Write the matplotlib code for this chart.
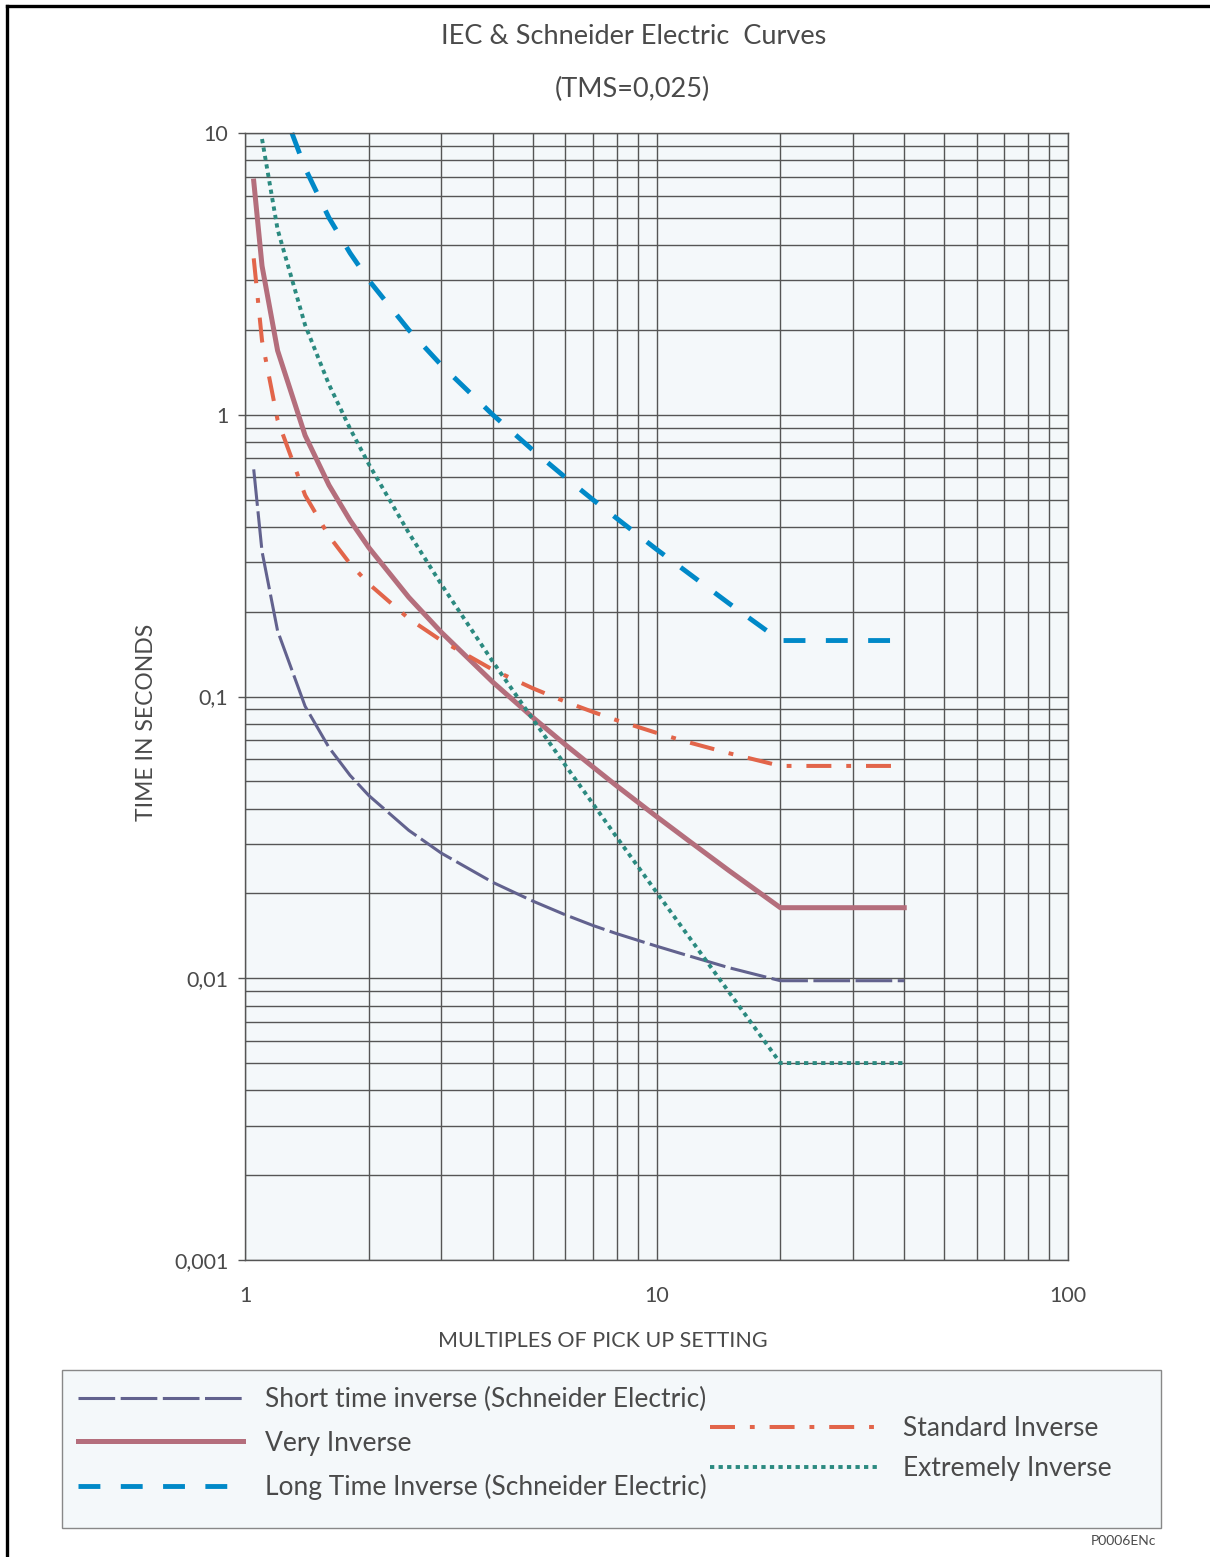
"""
IEC & Schneider Electric IDMT curves at TMS=0,025, log-log chart.
"""

import matplotlib.pyplot as plt
from matplotlib.patches import Rectangle
from matplotlib.lines import Line2D

# multiples of pick up setting
m_main = [1.05, 1.1, 1.2, 1.4, 1.6, 1.8, 2, 2.5, 3, 4, 5, 6, 7, 8, 10, 12, 15, 20, 40]
m_ei = [1.1, 1.2, 1.4, 1.6, 1.8, 2, 2.5, 3, 4, 5, 6, 7, 8, 10, 12, 15, 20, 40]
m_lti = [1.3, 1.4, 1.6, 1.8, 2, 2.5, 3, 4, 5, 6, 7, 8, 10, 12, 15, 20, 40]

# trip times in seconds
t_sti = [0.640, 0.327, 0.171, 0.0923, 0.0659, 0.0525, 0.0445, 0.0335, 0.0278,
         0.0219, 0.0188, 0.0168, 0.0154, 0.0144, 0.0130, 0.0120, 0.0109,
         0.0098, 0.0098]
t_vi = [6.75, 3.375, 1.69, 0.844, 0.5625, 0.422, 0.3375, 0.225, 0.169, 0.1125,
        0.0844, 0.0675, 0.0563, 0.0482, 0.0375, 0.0307, 0.0241, 0.0178, 0.0178]
t_lti = [10.0, 7.5, 5.0, 3.75, 3.0, 2.0, 1.5, 1.0, 0.75, 0.6, 0.5, 0.429, 0.333,
         0.273, 0.214, 0.158, 0.158]
t_si = [3.59, 1.83, 0.958, 0.518, 0.371, 0.296, 0.251, 0.189, 0.158, 0.1245,
        0.107, 0.0959, 0.0882, 0.0824, 0.0743, 0.0687, 0.0629, 0.0567, 0.0567]
t_ei = [9.52, 4.55, 2.08, 1.28, 0.893, 0.667, 0.381, 0.25, 0.133, 0.0833,
        0.0571, 0.0417, 0.0317, 0.0202, 0.0140, 0.00893, 0.0050, 0.0050]

y_ticks = [0.001, 0.01, 0.1, 1, 10]
y_ticklabels = ["0,001", "0,01", "0,1", "1", "10"]
x_ticks = [1, 10, 100]
x_ticklabels = ["1", "10", "100"]

txt_clr = "#4a4a4a"
grid_clr = "#555555"
bg_clr = "#f4f8fa"


def main():
    plt.rcParams['font.family'] = ['Lato', 'DejaVu Sans']

    fig = plt.figure(figsize=(12.1, 15.57), dpi=100)
    ax = fig.add_axes([245 / 1210, 1 - 1260 / 1557, 823 / 1210, 1127 / 1557])
    ax.set_facecolor(bg_clr)
    ax.set_xscale("log")
    ax.set_yscale("log")
    ax.set_xlim(1, 100)
    ax.set_ylim(0.001, 10)

    # the curves
    l_sti, = ax.plot(m_main, t_sti, color="#62628e", lw=2.2, dashes=(12, 1.8),
                     label="Short time inverse (Schneider Electric)")
    l_vi, = ax.plot(m_main, t_vi, color="#b46e7c", lw=3.6, label="Very Inverse")
    l_lti, = ax.plot(m_lti, t_lti, color="#0089c8", lw=3.5, dashes=(4.5, 4.2),
                     label="Long Time Inverse (Schneider Electric)", clip_on=False)
    l_si, = ax.plot(m_main, t_si, color="#e2654a", lw=2.9,
                    dashes=(6.2, 3.7, 1.2, 3.7), label="Standard Inverse")
    l_ei, = ax.plot(m_ei, t_ei, color="#2b8a80", lw=2.8, dashes=(1.1, 1.1),
                    label="Extremely Inverse")

    # grid
    ax.grid(True, which="both", color=grid_clr, lw=1.0)
    ax.set_axisbelow(True)
    for s in ax.spines.values():
        s.set_color(grid_clr)
        s.set_linewidth(1.0)

    ax.set_yticks(y_ticks)
    ax.set_yticklabels(y_ticklabels)
    ax.set_xticks(x_ticks)
    ax.set_xticklabels(x_ticklabels)
    ax.tick_params(axis="y", which="major", length=5, width=1, color=grid_clr,
                   pad=7, labelsize=15.5, labelcolor=txt_clr)
    ax.tick_params(axis="x", which="major", length=0, pad=19, labelsize=15.5,
                   labelcolor=txt_clr)
    ax.tick_params(which="minor", length=0)
    ax.yaxis.set_minor_formatter(plt.NullFormatter())
    ax.xaxis.set_minor_formatter(plt.NullFormatter())

    ax.set_xlabel("MULTIPLES OF PICK UP SETTING", fontsize=15.5, color=txt_clr)
    ax.xaxis.set_label_coords(0.435, -0.063)
    ax.set_ylabel("TIME IN SECONDS", fontsize=16.5, color=txt_clr)
    ax.yaxis.set_label_coords(-0.107, 0.477)

    fig.text(634 / 1210, 1 - 37 / 1557, "IEC & Schneider Electric  Curves",
             ha="center", va="center", fontsize=19.5, color=txt_clr)
    fig.text(632 / 1210, 1 - 89 / 1557, "(TMS=0,025)",
             ha="center", va="center", fontsize=19.5, color=txt_clr)

    # legend box
    fig.add_artist(Rectangle((62 / 1210, 1 - 1528 / 1557), 1099 / 1210, 158 / 1557,
                             transform=fig.transFigure, facecolor=bg_clr,
                             edgecolor="#888888", lw=1.0, zorder=0))
    fig.legend(handles=[l_sti, l_vi, l_lti], loc="upper left",
               bbox_to_anchor=(78 / 1210, 1 - 1387 / 1557), frameon=False,
               fontsize=19, handlelength=6.25, handletextpad=0.83,
               labelspacing=0.70, borderpad=0, borderaxespad=0,
               labelcolor=txt_clr)
    fig.legend(handles=[l_si, l_ei], loc="upper left",
               bbox_to_anchor=(710 / 1210, 1 - 1416 / 1557), frameon=False,
               fontsize=19, handlelength=6.4, handletextpad=0.9,
               labelspacing=0.58, borderpad=0, borderaxespad=0,
               labelcolor=txt_clr)

    fig.text(1156 / 1210, 1 - 1541 / 1557, "P0006ENc", ha="right", va="center",
             fontsize=10, color=txt_clr)

    # page frame, left and top edges
    fig.add_artist(Line2D([7 / 1210, 7 / 1210], [0, 1 - 6 / 1557],
                          transform=fig.transFigure, color="k", lw=2.4))
    fig.add_artist(Line2D([7 / 1210, 1], [1 - 6 / 1557, 1 - 6 / 1557],
                          transform=fig.transFigure, color="k", lw=2.4))

    fig.savefig("out.png", dpi=100)


if __name__ == '__main__':
    main()
